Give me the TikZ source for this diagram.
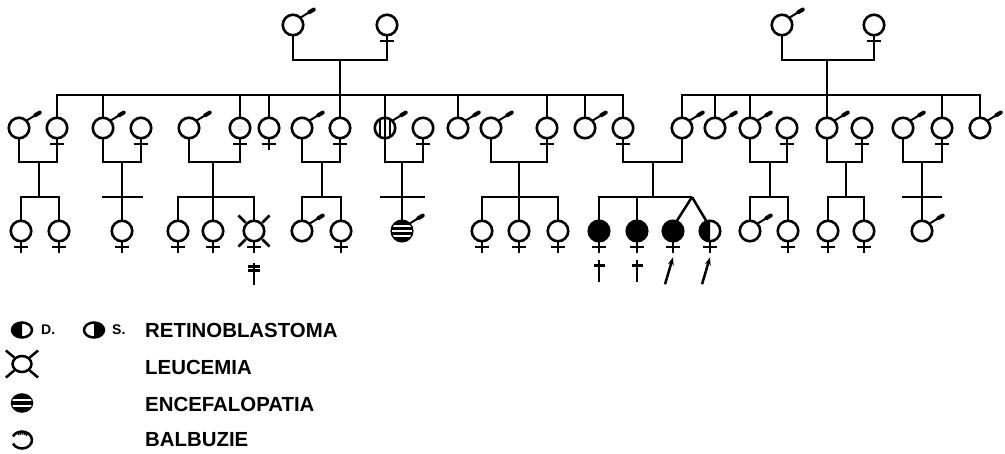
\documentclass[tikz,border=0pt]{standalone}
\usepackage{fontspec}
\setmainfont{Liberation Sans}
\usetikzlibrary{arrows.meta,shapes.geometric}
\newcommand\msign[1]{\draw[line width=2pt] (#1.45) -- ++(14,-8.5);
  \draw[line width=4pt,line cap=round] (#1.45) ++(9,-5.5) -- ++(4.5,-2.7);}
\newcommand\fbar[1]{\draw[line width=2.4pt] (#1.south) ++(-7,6) -- ++(14,0);}
\newcommand\fsign[1]{\draw[line width=2.4pt] (#1.south) -- ++(0,12); \fbar{#1}}
\begin{document}
\begin{tikzpicture}[x=1pt,y=-1pt,
  per/.style={circle,draw,line width=2.6pt,minimum size=20.5pt,inner sep=0pt,outer sep=0pt},
  aff/.style={per,fill=black},
  ln/.style={line width=2.5pt},
  leg/.style={ellipse,draw,line width=2.5pt,inner sep=0pt,outer sep=0pt},
  lab/.style={anchor=base west,inner sep=0pt,font=\bfseries\fontsize{20.4}{20.4}\selectfont},
  sml/.style={anchor=base west,inner sep=0pt,font=\bfseries\fontsize{14}{14}\selectfont}]
\useasboundingbox (0,0) rectangle (1005,453);
% ---------- generation I
\node[per] (a1) at (293,25) {};
\node[per] (a2) at (387,25) {};
\node[per] (b1) at (782,25) {};
\node[per] (b2) at (874,25) {};
\msign{a1} \msign{b1} \fsign{a2} \fsign{b2}
\coordinate (cI1) at (340,60);
\coordinate (cI2) at (827,60);
\draw[ln] (a1.south) |- (cI1) -| (a2.south);
\draw[ln] (b1.south) |- (cI2) -| (b2.south);
% ---------- generation II
\foreach \n/\x in {p1/19,p2/57,p3/103,p4/141,p5/189,p6/240,p7/269,p8/302,p9/340,
  p10/385,p11/423,p12/458,p13/491,p14/547,p15/585,p16/623,p17/682,p18/715,
  p19/750,p20/787,p21/827,p22/862,p23/903,p24/942,p25/980}
  {\node[per] (\n) at (\x,128) {};}
\foreach \n in {p1,p3,p5,p8,p10,p12,p13,p15,p17,p18,p19,p21,p23,p25} {\msign{\n}}
\foreach \n in {p2,p4,p6,p9,p11,p14,p16,p20,p22,p24} {\fbar{\n}}
\fsign{p7}
\begin{scope}
  \clip (p10.center) circle[radius=10pt];
  \foreach \dx in {-5,0,5} {\draw[line width=2pt] (p10.center) ++(\dx,-12) -- ++(0,24);}
\end{scope}
\coordinate (s1) at (340,95);
\coordinate (s2) at (827,95);
\draw[ln] (cI1) -- (p9.north);
\draw[ln] (cI2) -- (p21.north);
\draw[ln] (p2.north) |- (s1) -| (p16.north);
\foreach \n in {p3,p6,p7,p10,p12,p14,p15} {\draw[ln] (\n.north) -- (\n.north |- s1);}
\draw[ln] (p17.north) |- (s2) -| (p25.north);
\foreach \n in {p18,p19,p24} {\draw[ln] (\n.north) -- (\n.north |- s2);}
% couples
\foreach \c/\x/\m/\w in {cA/39/p1/p2,cB/122/p3/p4,cC/213/p5/p6,cD/322/p8/p9,
  cE/402/p10/p11,cF/519/p13/p14,cG/653/p16/p17,cH/770/p19/p20,cI/846/p21/p22,cJ/922/p23/p24}
  {\coordinate (\c) at (\x,162);
   \draw[ln] (\m.south) |- (\c) -| (\w.south);}
% ---------- generation III
\foreach \n/\x in {q1/21,q2/59,q3/122,q4/178,q5/213,q6/254,q7/302,q8/341,
  q10/482,q11/519,q12/558,q17/750,q18/788,q19/828,q20/864,q21/922}
  {\node[per] (\n) at (\x,231) {};}
\foreach \n/\x in {q9/402,q13/599,q14/637,q15/673}
  {\node[aff] (\n) at (\x,231) {};}
\node[per] (q16) at (710,231) {};
\fill (q16.north) arc[start angle=90,end angle=270,radius=10.25pt] -- cycle;
\begin{scope}
  \clip (q9.center) circle[radius=10pt];
  \foreach \dy in {-5,0,5} {\draw[white,line width=1.6pt] (q9.center) ++(-12,\dy) -- ++(24,0);}
\end{scope}
\foreach \n in {q7,q9,q17,q21} {\msign{\n}}
\foreach \n in {q1,q2,q3,q4,q5,q6,q8,q10,q11,q12,q13,q14,q15,q16,q18,q19,q20} {\fsign{\n}}
% leucemia marks
\foreach \a in {45,135,225,315} {\draw[ln] (q6.center) ++(\a:12) -- ++(\a:10);}
% sibships
\foreach \s/\x in {sA/39,sB/122,sC/213,sD/322,sE/402,sF/519,sG/653,sH/770,sI/846,sJ/922}
  {\coordinate (\s) at (\x,197);}
\foreach \c/\s in {cA/sA,cC/sC,cD/sD,cF/sF,cG/sG,cH/sH,cI/sI} {\draw[ln] (\c) -- (\s);}
\draw[ln] (q1.north) |- (sA) -| (q2.north);
\draw[ln] (cB) -- (q3.north);
\draw[ln] (sB) ++(-20,0) -- ++(41,0);
\draw[ln] (q4.north) |- (sC) -| (q6.north);
\draw[ln] (q5.north) -- (sC);
\draw[ln] (q7.north) |- (sD) -| (q8.north);
\draw[ln] (cE) -- (q9.north);
\draw[ln] (sE) ++(-22,0) -- ++(45,0);
\draw[ln] (q10.north) |- (sF) -| (q12.north);
\draw[ln] (q11.north) -- (sF);
\coordinate (tw) at (692,197);
\draw[ln] (q13.north) |- (tw);
\draw[ln] (q14.north) -- (q14.north |- tw);
\draw[ln] (tw) -- (q15.70);
\draw[ln] (tw) -- (q16.110);
\draw[ln] (q17.north) |- (sH) -| (q18.north);
\draw[ln] (q19.north) |- (sI) -| (q20.north);
\draw[ln] (cJ) -- (q21.north);
\draw[ln] (sJ) ++(-20,0) -- ++(40,0);
% daggers and arrows
\foreach \n in {q13,q14} {
  \draw[ln] (\n.south) ++(0,19) -- ++(0,22);
  \draw[ln] (\n.south) ++(-5.5,24) -- ++(11,0);}
\draw[ln] (q6.south) ++(0,22) -- ++(0,22);
\draw[ln] (q6.south) ++(-6,25) -- ++(12,0);
\draw[ln] (q6.south) ++(-6,29) -- ++(12,0);
\foreach \n in {q15,q16}
  {\draw[ln,-{Stealth[length=8pt,width=6pt]}] (\n.south) ++(-8,43) -- ++(8,-27);}
% ---------- legend
\node[leg,minimum width=20pt,minimum height=15pt] (l1) at (22,330) {};
\fill (l1.north) arc[start angle=90,end angle=270,x radius=10pt,y radius=7.5pt] -- cycle;
\node[sml] (l1t) at (41,334) {D.};
\node[leg,minimum width=20pt,minimum height=15pt] (l2) at (94,330) {};
\fill (l2.north) arc[start angle=90,end angle=-90,x radius=10pt,y radius=7.5pt] -- cycle;
\node[sml] (l2t) at (112,334) {S.};
\node[leg,minimum width=19pt,minimum height=16pt] (l3) at (22,364) {};
\foreach \a in {40,140,220,320} {\draw[ln] (l3.center) ++(\a:10pt) -- ++(\a:11pt);}
\node[leg,fill=black,minimum width=20pt,minimum height=17pt] (l4) at (22,403) {};
\begin{scope}
  \clip (l4.center) ellipse[x radius=10pt,y radius=8.5pt];
  \foreach \dy in {-3,3} {\draw[white,line width=1.7pt] (l4.center) ++(-12,\dy) -- ++(24,0);}
\end{scope}
\coordinate (l5) at (22,440);
\draw[ln] (l5) ++(205:10pt and 8.5pt) arc[start angle=205,end angle=515,x radius=10pt,y radius=8.5pt];
\foreach \a in {55,70,85,100,115} {\draw[line width=1.6pt] (l5) ++(\a:10pt and 8.5pt) -- ++(\a-180:3pt);}
\node[lab] (t1) at (145,337) {RETINOBLASTOMA};
\node[lab] (t2) at (145,374) {LEUCEMIA};
\node[lab] (t3) at (145,411) {ENCEFALOPATIA};
\node[lab] (t4) at (145,446) {BALBUZIE};
\end{tikzpicture}
\end{document}
